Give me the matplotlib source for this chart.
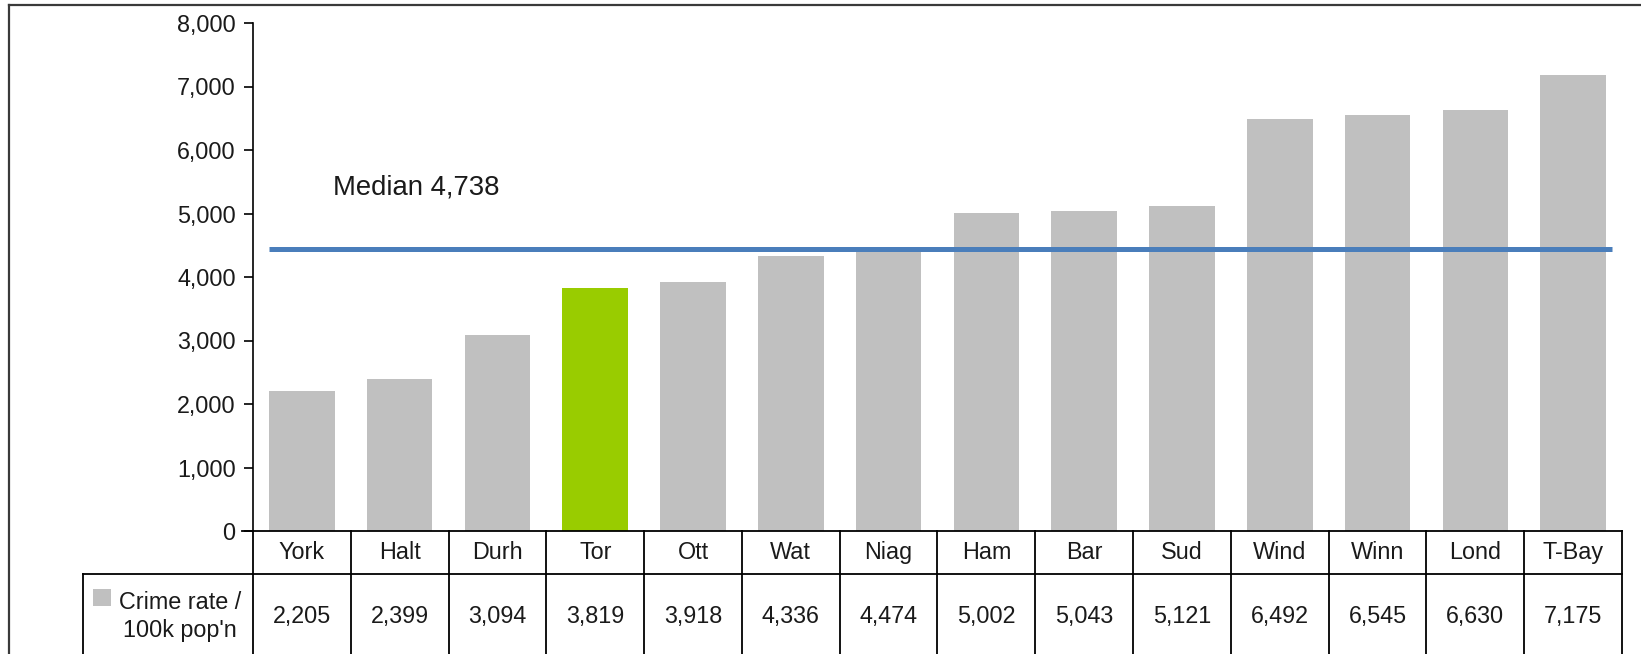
import numpy as np
import matplotlib
matplotlib.use('Agg')
import matplotlib.pyplot as plt
import matplotlib.transforms as mtransforms
from matplotlib.patches import Rectangle

plt.rcParams['font.family'] = ['Liberation Sans', 'DejaVu Sans']

# data
regions = ['York', 'Halt', 'Durh', 'Tor', 'Ott', 'Wat', 'Niag', 'Ham', 'Bar', 'Sud',
           'Wind', 'Winn', 'Lond', 'T-Bay']
crime_rate = [2205, 2399, 3094, 3819, 3918, 4336, 4474, 5002, 5043, 5121,
              6492, 6545, 6630, 7175]
highlight = 'Tor'
median_line = 4440
median_label = 'Median 4,738'
row_label = "Crime rate /\n100k pop'n"

grey = '#C0C0C0'
green = '#99CC00'
blue = '#4A7EBB'
ink = '#1a1a1a'
fs = 16.8

W, H = 1641, 654
fig = plt.figure(figsize=(W / 100, H / 100), dpi=100)
# axes box in pixels: x 253..1622, y 23..531
ax = fig.add_axes([253 / W, 1 - 531 / H, (1622 - 253) / W, (531 - 23) / H])

x = np.arange(len(regions))
colors = [green if r == highlight else grey for r in regions]
ax.bar(x, crime_rate, width=0.67, color=colors, zorder=2)

ax.hlines(median_line, -0.34, len(regions) - 0.6, color=blue, linewidth=3.6, zorder=3)
ax.text(0.32, 5295, median_label, fontsize=19.8, color=ink, ha='left', va='baseline')

ax.set_xlim(-0.5, len(regions) - 0.5)
ax.set_ylim(0, 8000)
ax.set_yticks(np.arange(0, 8001, 1000))
ax.yaxis.set_major_formatter(matplotlib.ticker.FuncFormatter(lambda v, p: f'{int(v):,}'))
ax.tick_params(axis='y', direction='out', length=6.5, width=1.2, labelsize=fs,
               labelcolor=ink, pad=6)
ax.tick_params(axis='x', bottom=False, labelbottom=False)
for s in ['top', 'right', 'bottom']:
    ax.spines[s].set_visible(False)
ax.spines['left'].set_linewidth(1.2)

# data table under the axis (x in data units, y in axes fraction)
tr = mtransforms.blended_transform_factory(ax.transData, ax.transAxes)
row1 = -(574 - 531) / (531 - 23)
row2 = -(662 - 531) / (531 - 23)
label_left = (83 - 253) / 97.8 - 0.5
kw = dict(color='black', linewidth=1.3, transform=tr, clip_on=False)

ax.plot([-0.5 - 0.11, len(regions) - 0.5], [0, 0], **kw)
ax.plot([label_left, len(regions) - 0.5], [row1, row1], **kw)
ax.plot([label_left, label_left], [row1, row2], **kw)
for b in np.arange(len(regions) + 1) - 0.5:
    ax.plot([b, b], [0, row2], **kw)

for i, (r, v) in enumerate(zip(regions, crime_rate)):
    ax.text(i, row1 / 2, r, fontsize=fs, color=ink, ha='center', va='center',
            transform=tr, clip_on=False)
    ax.text(i, (row1 + row2) / 2 + 0.003, f'{v:,}', fontsize=fs, color=ink,
            ha='center', va='center', transform=tr, clip_on=False)

key_x0 = (93 - 253) / 97.8 - 0.5
key_x1 = (111 - 253) / 97.8 - 0.5
ax.add_patch(Rectangle((key_x0, -(606 - 531) / 508), key_x1 - key_x0, 17 / 508,
                       facecolor=grey, edgecolor='none', transform=tr, clip_on=False))
ax.text((180 - 253) / 97.8 - 0.5, (row1 + row2) / 2 + 0.003, row_label, fontsize=fs,
        color=ink, ha='center', va='center', linespacing=1.3, transform=tr, clip_on=False)

# outer frame (top and left edges of the screenshot)
fig.add_artist(plt.Line2D([9 / W, 9 / W], [0, 1 - 5 / H], color='#3a3a3a', linewidth=1.6))
fig.add_artist(plt.Line2D([9 / W, 1], [1 - 5 / H, 1 - 5 / H], color='#3a3a3a', linewidth=1.6))

plt.savefig('out.png', dpi=100)
